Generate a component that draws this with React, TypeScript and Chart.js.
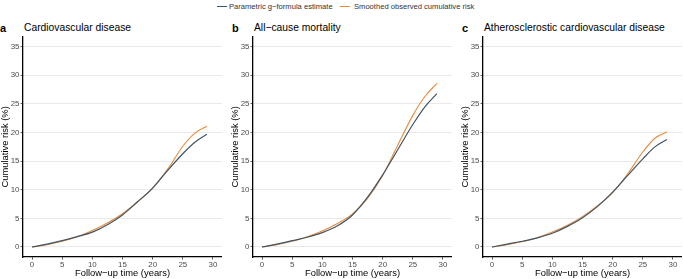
import React, { useEffect, useRef } from "react";
import { Chart, registerables } from "chart.js";

Chart.register(...registerables);

const years = [0, 2.5, 5, 7.5, 10, 12.5, 15, 17.5, 20, 22.5, 25, 27, 29];

const cvdGformula = [0, 0.5, 1.1, 1.8, 2.6, 3.9, 5.6, 7.9, 10.3, 13.4, 16.3, 18.3, 19.7];
const cvdObserved = [0, 0.4, 1.0, 1.8, 2.9, 4.2, 5.8, 7.9, 10.3, 13.6, 17.6, 19.9, 21.1];

const mortGformula = [0, 0.5, 1.1, 1.7, 2.5, 3.7, 5.6, 8.7, 12.6, 17.0, 21.4, 24.5, 26.8];
const mortObserved = [0, 0.4, 1.0, 1.8, 2.8, 4.1, 5.8, 8.5, 12.5, 17.8, 23.0, 26.3, 28.6];

const ascvdGformula = [0, 0.5, 1.0, 1.6, 2.4, 3.6, 5.1, 7.1, 9.6, 12.5, 15.4, 17.5, 18.8];
const ascvdObserved = [0, 0.4, 0.9, 1.6, 2.6, 3.8, 5.3, 7.2, 9.5, 12.8, 16.6, 19.0, 20.1];

const xTicks = [0, 5, 10, 15, 20, 25, 30];
const yTicks = [0, 5, 10, 15, 20, 25, 30, 35];

const seriesNames = ["Parametric g\u2212formula estimate", "Smoothed observed cumulative risk"];
const panelLetters = ["a", "b", "c"];
const panelTitles = ["Cardiovascular disease", "All\u2212cause mortality", "Atherosclerostic cardiovascular disease"];
const xTitle = "Follow\u2212up time (years)";
const yTitle = "Cumulative risk (%)";

const DARK = "#3f5566";
const ORANGE = "#e98b3a";
const FONT = "'Liberation Sans', Arial, Helvetica, sans-serif";

const panels = [
  { g: cvdGformula, o: cvdObserved },
  { g: mortGformula, o: mortObserved },
  { g: ascvdGformula, o: ascvdObserved },
];

const CANVAS_TOP = 30;
const CANVAS_W = 222;
const CANVAS_H = 249;
const PANEL_STEP = 230;
const YSCALE_W = 23;

function Panel({ index }: { index: number }) {
  const ref = useRef<HTMLCanvasElement | null>(null);
  useEffect(() => {
    if (!ref.current) return;
    const p = panels[index];
    const toPts = (arr: number[]) => years.map((x, i) => ({ x, y: arr[i] }));
    const chart = new Chart(ref.current, {
      type: "line",
      data: {
        datasets: [
          {
            label: seriesNames[0],
            data: toPts(p.g),
            borderColor: DARK,
            borderWidth: 1.2,
            pointRadius: 0,
            cubicInterpolationMode: "monotone",
            fill: false,
          },
          {
            label: seriesNames[1],
            data: toPts(p.o),
            borderColor: ORANGE,
            borderWidth: 1.1,
            pointRadius: 0,
            cubicInterpolationMode: "monotone",
            fill: false,
          },
        ],
      },
      options: {
        animation: false,
        responsive: false,
        devicePixelRatio: 1,
        layout: { padding: { top: 6.7, right: 0, left: 0, bottom: 0 } },
        plugins: { legend: { display: false }, tooltip: { enabled: false } },
        scales: {
          x: {
            type: "linear",
            min: -1.5,
            max: 31.5,
            afterBuildTicks: (s: any) => {
              s.ticks = xTicks.map((v) => ({ value: v }));
            },
            afterFit: (s: any) => {
              s.height = 22;
              s.paddingLeft = 0;
              s.paddingRight = 0;
            },
            grid: {
              drawOnChartArea: false,
              drawTicks: true,
              tickLength: 2.5,
              tickColor: "#555555",
            },
            border: { display: true, color: "#000000", width: 1.3 },
            ticks: {
              color: "#4d4d4d",
              padding: 0.5,
              maxRotation: 0,
              font: { family: FONT, size: 7.9 },
            },
            title: {
              display: true,
              text: xTitle,
              color: "#000000",
              padding: 0,
              font: { family: FONT, size: 9.4, lineHeight: 1.2 },
            },
          },
          y: {
            type: "linear",
            min: -1.75,
            max: 36.75,
            afterBuildTicks: (s: any) => {
              s.ticks = yTicks.map((v) => ({ value: v }));
            },
            afterFit: (s: any) => {
              s.width = YSCALE_W;
              s.paddingTop = 0;
              s.paddingBottom = 0;
            },
            grid: {
              color: "#e6e6e6",
              lineWidth: 0.9,
              drawTicks: true,
              tickLength: 2.5,
              tickColor: "#555555",
            },
            border: { display: true, color: "#000000", width: 1.3 },
            ticks: {
              color: "#4d4d4d",
              padding: 1,
              font: { family: FONT, size: 7.9 },
            },
            title: {
              display: true,
              text: yTitle,
              color: "#000000",
              padding: 0,
              font: { family: FONT, size: 9.4, lineHeight: 1.2 },
            },
          },
        },
      },
    } as any);
    return () => chart.destroy();
  }, [index]);

  const left = index * PANEL_STEP;
  return (
    <>
      <div
        style={{
          position: "absolute",
          left: left + (index === 0 ? 0 : 2),
          top: 21,
          lineHeight: "14px",
          fontSize: 11,
          fontWeight: "bold",
          fontFamily: FONT,
          color: "#000",
        }}
      >
        {panelLetters[index]}
      </div>
      <div
        style={{
          position: "absolute",
          left: left + 24,
          top: 21,
          lineHeight: "14px",
          fontSize: 10.3,
          fontFamily: FONT,
          color: "#000",
          whiteSpace: "nowrap",
        }}
      >
        {panelTitles[index]}
      </div>
      <canvas
        ref={ref}
        width={CANVAS_W}
        height={CANVAS_H}
        style={{ position: "absolute", left, top: CANVAS_TOP, width: CANVAS_W, height: CANVAS_H }}
      />
    </>
  );
}

export default function App() {
  useEffect(() => {
    document.body.style.margin = "0";
  }, []);
  const legendItem = (name: string, color: string, x: number, textX: number) => (
    <>
      <span
        style={{ position: "absolute", left: x, top: 6, width: 10, height: 1.2, background: color }}
      />
      <span
        style={{
          position: "absolute",
          left: textX,
          top: 1,
          lineHeight: "12px",
          whiteSpace: "nowrap",
          fontFamily: FONT,
          fontSize: 7.6,
          color: "#333",
        }}
      >
        {name}
      </span>
    </>
  );
  return (
    <div style={{ position: "relative", width: 683, height: 279, background: "#fff", overflow: "hidden" }}>
      {legendItem(seriesNames[0], DARK, 217, 229)}
      {legendItem(seriesNames[1], ORANGE, 340, 354)}
      {[0, 1, 2].map((i) => (
        <Panel key={i} index={i} />
      ))}
    </div>
  );
}
